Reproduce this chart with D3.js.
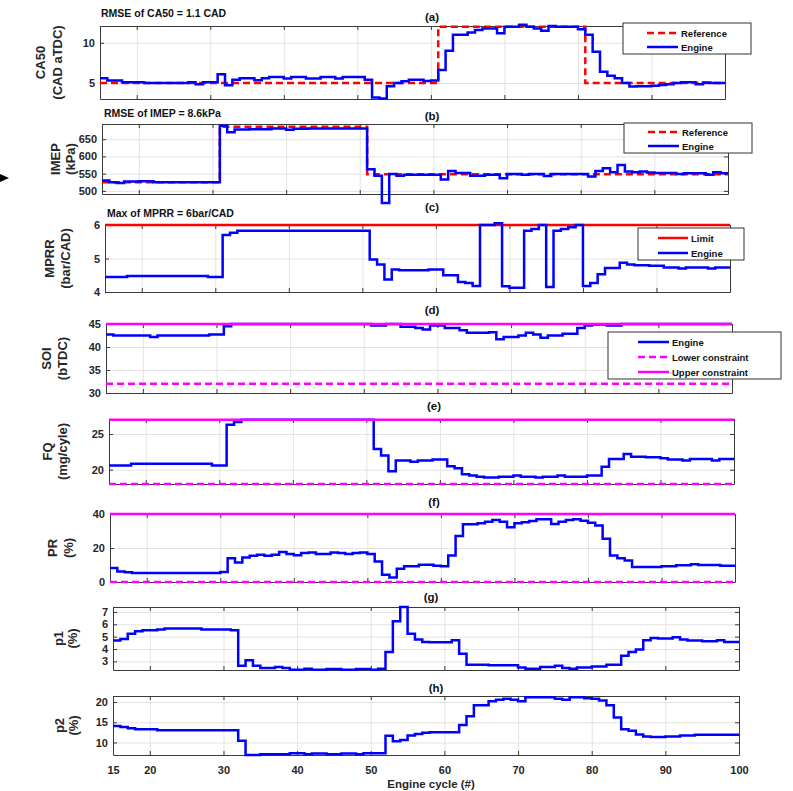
<!DOCTYPE html>
<html lang="en">
<head>
<meta charset="UTF-8">
<title>Engine cycle tracking</title>
<script src="https://cdn.jsdelivr.net/npm/d3@7"></script>
<style>
  body { margin: 0; background: #fff; font-family: "Liberation Sans", Arial, sans-serif; }
  .tick text { font-size: 11px; font-weight: bold; fill: #262626; }
  .note { font-size: 10.5px; font-weight: bold; fill: #111; }
  .tag { font-size: 11.5px; font-weight: bold; fill: #111; }
  .ylab { font-size: 13px; font-weight: bold; fill: #262626; }
  .legend text { font-size: 9.5px; font-weight: bold; fill: #111; }
  .grid line { stroke: #e3e3e3; stroke-width: 1px; }
  .grid path { display: none; }
</style>
</head>
<body>
<script>
// engine cycles on the x axis
var cycles = d3.range(15, 101);
var xTicks = [15, 20, 30, 40, 50, 60, 70, 80, 90, 100];

// (a) CA50, cycles 15..100
var ca50Engine = [
  5.6, 5.3, 5.3, 5.1, 5.1, 5.1, 5.0, 5.0, 5.0, 5.0,
  5.0, 5.0, 5.1, 4.85, 5.1, 5.1, 6.1, 4.7, 5.4, 5.6,
  5.6, 5.35, 5.6, 5.75, 5.75, 5.55, 5.75, 5.75, 5.55, 5.55,
  5.75, 5.75, 5.55, 5.75, 5.75, 5.75, 5.4, 3.2, 3.05, 4.6,
  5.0, 5.2, 5.4, 5.4, 5.25, 5.3, 6.6, 9.0, 11.0, 11.0,
  11.3, 11.6, 11.8, 11.8, 11.2, 12.0, 12.0, 12.25, 12.0, 11.8,
  11.5, 12.1, 12.0, 12.0, 12.0, 11.7, 11.0, 8.9, 6.4, 5.9,
  5.6, 5.0, 4.55, 4.6, 4.6, 4.65, 4.75, 4.85, 5.0, 5.1,
  5.1, 4.85, 5.05, 5.0, 5.0, 5.0
];
var ca50Ref = [[15, 5], [61, 12], [81, 5], [100, 5]];

// (b) IMEP
var imepEngine = [
  530, 525, 523, 527, 527, 528, 528, 525, 525, 525,
  525, 525, 525, 525, 525, 525, 689, 670, 678, 678,
  679, 679, 679, 681, 681, 677, 680, 680, 681, 681,
  681, 681, 681, 681, 681, 681, 563, 544, 465, 549,
  544, 547, 547, 547, 547, 547, 533, 558, 552, 552,
  544, 544, 547, 547, 537, 549, 549, 547, 549, 549,
  543, 549, 549, 549, 549, 549, 542, 558, 566, 554,
  575, 556, 554, 556, 553, 552, 552, 552, 549, 551,
  551, 551, 547, 554, 551, 551
];
var imepRef = [[15, 525], [31, 686], [51, 548], [100, 548]];

// (c) MPRR
var mprrEngine = [
  4.45, 4.45, 4.45, 4.48, 4.48, 4.48, 4.48, 4.48, 4.48, 4.48,
  4.48, 4.48, 4.48, 4.48, 4.45, 4.45, 5.7, 5.77, 5.83, 5.83,
  5.83, 5.83, 5.83, 5.83, 5.83, 5.83, 5.83, 5.83, 5.83, 5.83,
  5.83, 5.83, 5.83, 5.83, 5.83, 5.83, 4.97, 4.82, 4.37, 4.67,
  4.65, 4.65, 4.65, 4.65, 4.67, 4.67, 4.5, 4.5, 4.3, 4.27,
  4.18, 6.0, 6.0, 6.05, 4.17, 4.13, 4.13, 5.83, 5.88, 6.0,
  4.15, 5.83, 5.88, 5.93, 6.0, 4.18, 4.27, 4.53, 4.72, 4.72,
  4.87, 4.82, 4.8, 4.8, 4.78, 4.78, 4.73, 4.73, 4.7, 4.73,
  4.73, 4.73, 4.7, 4.73, 4.73, 4.73
];
var mprrLimit = 6;

// (d) SOI
var soiEngine = [
  42.7, 42.5, 42.5, 42.5, 42.5, 42.5, 42.2, 42.5, 42.5, 42.5,
  42.5, 42.5, 42.5, 42.5, 42.7, 42.7, 44.5, 45, 45, 45,
  45, 45, 45, 45, 45, 45, 45, 45, 45, 45,
  45, 45, 45, 45, 45, 45, 44.7, 44.7, 45, 45,
  44.4, 44.4, 44.15, 43.8, 44.65, 44.65, 44.15, 44.15, 43.65, 43.1,
  43.1, 43.1, 43.2, 41.7, 42.2, 42.2, 42.5, 43.1, 42.7, 42.0,
  42.5, 42.5, 42.9, 42.9, 44.15, 44.65, 44.9, 44.9, 44.65, 44.65,
  45, 45, 45, 45, 45, 45, 45, 45, 45, 45,
  45, 45, 45, 45, 45, 45
];
var soiLower = 32, soiUpper = 45;

// (e) FQ
var fqEngine = [
  20.6, 20.6, 20.6, 20.83, 20.83, 20.83, 20.83, 20.83, 20.83, 20.83,
  20.83, 20.83, 20.83, 20.83, 20.6, 20.6, 26.3, 26.67, 27, 27,
  27, 27, 27, 27, 27, 27, 27, 27, 27, 27,
  27, 27, 27, 27, 27, 27, 22.9, 22.0, 19.8, 21.3,
  21.3, 21.1, 21.3, 21.3, 21.43, 21.43, 20.5, 20.2, 19.35, 19.2,
  19.0, 18.9, 18.9, 19.03, 19.03, 19.2, 19.03, 19.03, 18.9, 19.03,
  19.03, 19.2, 19.03, 19.03, 19.03, 19.2, 19.2, 20.4, 21.5, 21.5,
  22.2, 21.8, 21.8, 21.76, 21.76, 21.6, 21.43, 21.43, 21.3, 21.5,
  21.5, 21.5, 21.3, 21.5, 21.5, 21.5
];
var fqLower = 18, fqUpper = 27;

// (f) PR
var prEngine = [
  8.2, 6.2, 5.7, 5.3, 5.3, 5.3, 5.3, 5.3, 5.3, 5.3,
  5.3, 5.3, 5.3, 5.3, 5.3, 5.85, 14.0, 11.5, 14.4, 15.4,
  16.0, 15.4, 16.0, 17.6, 16.4, 15.8, 17.0, 17.4, 16.4, 16.4,
  17.4, 17.0, 16.4, 17.0, 17.4, 16.4, 12.1, 4.3, 2.7, 7.8,
  9.2, 9.2, 10.1, 10.1, 9.6, 9.2, 15.6, 27.1, 34.0, 34.0,
  34.5, 35.5, 36.5, 35.5, 32.2, 34.5, 35.1, 35.9, 36.9, 36.9,
  34.1, 35.5, 36.5, 36.9, 36.1, 34.9, 33.2, 25.4, 15.6, 14.0,
  12.7, 8.8, 8.8, 8.8, 8.8, 9.2, 9.2, 9.8, 9.8, 10.5,
  9.95, 9.95, 9.95, 9.6, 9.6, 9.6
];
var prLower = 0, prUpper = 40;

// (g) p1
var p1Engine = [
  4.68, 4.8, 5.24, 5.43, 5.51, 5.51, 5.57, 5.65, 5.65, 5.65,
  5.65, 5.65, 5.57, 5.57, 5.57, 5.57, 5.51, 2.65, 3.08, 2.65,
  2.46, 2.46, 2.54, 2.46, 2.32, 2.32, 2.4, 2.32, 2.32, 2.38,
  2.38, 2.32, 2.32, 2.38, 2.38, 2.32, 2.4, 3.76, 6.24, 7.4,
  5.24, 4.76, 4.57, 4.54, 4.54, 4.54, 4.7, 3.62, 2.73, 2.73,
  2.73, 2.68, 2.68, 2.68, 2.68, 2.51, 2.4, 2.4, 2.54, 2.54,
  2.65, 2.46, 2.4, 2.51, 2.51, 2.59, 2.59, 2.73, 2.73, 3.46,
  3.76, 3.95, 4.7, 4.9, 4.84, 4.84, 4.95, 4.76, 4.68, 4.68,
  4.62, 4.62, 4.7, 4.57, 4.57, 4.57
];

// (h) p2
var p2Engine = [
  14.1, 13.8, 13.55, 13.3, 13.3, 13.3, 13.05, 13.05, 13.05, 13.05,
  13.05, 13.05, 13.05, 13.05, 13.05, 13.05, 13.05, 10.4, 6.9, 6.9,
  7.1, 7.1, 7.1, 7.1, 7.35, 7.35, 7.1, 7.27, 7.27, 7.1,
  7.1, 7.27, 7.27, 7.1, 7.35, 7.35, 7.35, 11.65, 10.3, 10.6,
  11.7, 12.1, 12.4, 12.5, 12.5, 12.5, 12.5, 14.3, 16.5, 19.2,
  19.2, 20.2, 20.6, 20.8, 20.6, 20.2, 21.2, 21.2, 21.2, 21.2,
  20.8, 20.55, 21.2, 21.2, 20.95, 20.8, 20.4, 19.2, 16.2, 13.3,
  12.9, 11.95, 11.5, 11.35, 11.35, 11.5, 11.5, 11.7, 11.7, 11.9,
  11.9, 11.9, 11.9, 11.9, 11.9, 11.9
];

var BLUE = '#0000ff', RED = '#ff0000', MAG = '#ff00ff';

function pts(vals) { return cycles.map(function(c, i){ return [c, vals[i]]; }); }
function flat(v) { return [[15, v], [100, v]]; }

var panels = [
  { tag: '(a)', tagX: 432, tagY: 21, box: [100, 725, 26, 99], dom: [3, 12.1], yt: [5, 10],
    ylab: ['CA50', '(CAD aTDC)'], ylx: [40, 57],
    note: 'RMSE of CA50 = 1.1 CAD', noteX: 101, noteY: 17,
    series: [
      { name: 'Reference', d: ca50Ref, color: RED, dash: '7,4' },
      { name: 'Engine', d: pts(ca50Engine), color: BLUE }
    ],
    legend: { x: 623, y: 23, w: 128, h: 31, rows: [33, 47], lx: [647, 678] } },
  { tag: '(b)', tagX: 432, tagY: 120, box: [102, 728, 124, 194], dom: [491, 694], yt: [500, 550, 600, 650],
    ylab: ['IMEP', '(kPa)'], ylx: [55, 70],
    note: 'RMSE of IMEP = 8.6kPa', noteX: 104, noteY: 117,
    series: [
      { name: 'Reference', d: imepRef, color: RED, dash: '7,4' },
      { name: 'Engine', d: pts(imepEngine), color: BLUE }
    ],
    legend: { x: 624, y: 123, w: 128, h: 30, rows: [132, 146], lx: [648, 679] } },
  { tag: '(c)', tagX: 432, tagY: 211, box: [105, 730, 225, 292], dom: [4, 6], yt: [4, 5, 6],
    ylab: ['MPRR', '(bar/CAD)'], ylx: [49, 65],
    note: 'Max of MPRR = 6bar/CAD', noteX: 107, noteY: 217,
    series: [
      { name: 'Limit', d: flat(mprrLimit), color: RED },
      { name: 'Engine', d: pts(mprrEngine), color: BLUE }
    ],
    legend: { x: 638, y: 228, w: 106, h: 32, rows: [238, 253], lx: [658, 688] } },
  { tag: '(d)', tagX: 432, tagY: 314, box: [106, 732, 324, 393], dom: [30, 45], yt: [30, 35, 40, 45],
    ylab: ['SOI', '(bTDC)'], ylx: [46, 62],
    series: [
      { name: 'Engine', d: pts(soiEngine), color: BLUE },
      { name: 'Lower constraint', d: flat(soiLower), color: MAG, dash: '7,4' },
      { name: 'Upper constraint', d: flat(soiUpper), color: MAG }
    ],
    legend: { x: 608, y: 332, w: 173, h: 47, rows: [342, 357, 372], lx: [638, 669] } },
  { tag: '(e)', tagX: 434, tagY: 410, box: [109, 734, 419, 484], dom: [18, 27.1], yt: [20, 25],
    ylab: ['FQ', '(mg/cyle)'], ylx: [47, 62],
    series: [
      { name: 'Engine', d: pts(fqEngine), color: BLUE },
      { name: 'Lower constraint', d: flat(fqLower), color: MAG, dash: '7,4' },
      { name: 'Upper constraint', d: flat(fqUpper), color: MAG }
    ] },
  { tag: '(f)', tagX: 434, tagY: 506, box: [110, 735, 514, 582], dom: [0, 40], yt: [0, 20, 40],
    ylab: ['PR', '(%)'], ylx: [52, 68],
    series: [
      { name: 'Engine', d: pts(prEngine), color: BLUE },
      { name: 'Lower constraint', d: flat(prLower), color: MAG, dash: '7,4' },
      { name: 'Upper constraint', d: flat(prUpper), color: MAG }
    ] },
  { tag: '(g)', tagX: 431, tagY: 601, box: [113, 739, 607, 670], dom: [2.3, 7.4], yt: [3, 4, 5, 6, 7],
    ylab: ['p1', '(%)'], ylx: [58, 72],
    series: [ { name: 'Engine', d: pts(p1Engine), color: BLUE } ] },
  { tag: '(h)', tagX: 436, tagY: 692, box: [113, 739, 696, 755], dom: [6.9, 21.5], yt: [10, 15, 20],
    ylab: ['p2', '(%)'], ylx: [59, 73], xlabels: true,
    series: [ { name: 'Engine', d: pts(p2Engine), color: BLUE } ] }
];

var svg = d3.select('body').append('svg')
  .attr('width', 793)
  .attr('height', 791);

var plain = function(d){ return String(d); };

panels.forEach(function(p){
  var x0 = p.box[0], x1 = p.box[1], y0 = p.box[2], y1 = p.box[3];
  var x = d3.scaleLinear().domain([15, 100]).range([x0, x1]);
  var y = d3.scaleLinear().domain(p.dom).range([y1, y0]);
  var g = svg.append('g');

  // grid
  g.append('g').attr('class', 'grid')
    .attr('transform', 'translate(0,' + y1 + ')')
    .call(d3.axisBottom(x).tickValues(xTicks.slice(1, -1)).tickSize(-(y1 - y0)).tickFormat(''));
  g.append('g').attr('class', 'grid')
    .attr('transform', 'translate(' + x0 + ',0)')
    .call(d3.axisLeft(y).tickValues(p.yt).tickSize(-(x1 - x0)).tickFormat(''));

  var line = d3.line()
    .x(function(d){ return x(d[0]); })
    .y(function(d){ return y(d[1]); })
    .curve(d3.curveStepAfter);

  // box + inner ticks
  function styleAxis(sel) {
    sel.selectAll('path').attr('stroke', '#3a3a3a');
    sel.selectAll('line').attr('stroke', '#3a3a3a');
  }
  g.append('g').attr('transform', 'translate(' + x0 + ',0)')
    .call(d3.axisLeft(y).tickValues(p.yt).tickSize(-4).tickSizeOuter(0).tickPadding(5).tickFormat(plain))
    .call(styleAxis);
  g.append('g').attr('transform', 'translate(' + x1 + ',0)')
    .call(d3.axisRight(y).tickValues(p.yt).tickSize(-4).tickSizeOuter(0).tickFormat(''))
    .call(styleAxis);
  g.append('g').attr('transform', 'translate(0,' + y0 + ')')
    .call(d3.axisTop(x).tickValues(xTicks).tickSize(-4).tickSizeOuter(0).tickFormat(''))
    .call(styleAxis);
  g.append('g').attr('transform', 'translate(0,' + y1 + ')')
    .call(d3.axisBottom(x).tickValues(xTicks).tickSize(-4).tickSizeOuter(0)
      .tickPadding(11).tickFormat(p.xlabels ? plain : ''))
    .call(styleAxis);

  p.series.forEach(function(s){
    g.append('path')
      .datum(s.d)
      .attr('fill', 'none')
      .attr('stroke', s.color)
      .attr('stroke-width', 2.5)
      .attr('stroke-dasharray', s.dash || null)
      .attr('d', line);
  });

  // labels
  g.append('text').attr('class', 'tag')
    .attr('x', p.tagX).attr('y', p.tagY)
    .attr('text-anchor', 'middle').text(p.tag);
  if (p.note) {
    g.append('text').attr('class', 'note')
      .attr('x', p.noteX).attr('y', p.noteY).text(p.note);
  }
  var cy = (y0 + y1) / 2;
  p.ylab.forEach(function(t, i){
    g.append('text').attr('class', 'ylab')
      .attr('transform', 'translate(' + (p.ylx[i] + 4.5) + ',' + cy + ') rotate(-90)')
      .attr('text-anchor', 'middle')
      .text(t);
  });

  // legend
  if (p.legend) {
    var L = p.legend;
    var lg = g.append('g').attr('class', 'legend');
    lg.append('rect')
      .attr('x', L.x).attr('y', L.y).attr('width', L.w).attr('height', L.h)
      .attr('fill', '#fff').attr('stroke', '#333').attr('stroke-width', 1);
    p.series.forEach(function(s, i){
      var ly = L.rows[i];
      lg.append('line')
        .attr('x1', L.lx[0]).attr('x2', L.lx[1]).attr('y1', ly).attr('y2', ly)
        .attr('stroke', s.color).attr('stroke-width', 2.5)
        .attr('stroke-dasharray', s.dash || null);
      lg.append('text')
        .attr('x', L.lx[1] + 3).attr('y', ly + 3.5)
        .text(s.name);
    });
  }
});

svg.append('text')
  .attr('x', 431).attr('y', 788)
  .attr('text-anchor', 'middle')
  .style('font-size', '11.5px').style('font-weight', 'bold').style('fill', '#262626')
  .text('Engine cycle (#)');

// small arrow at the left edge
svg.append('path')
  .attr('d', 'M0,174 L9,178 L0,182 Z')
  .attr('fill', '#000');
</script>
</body>
</html>
